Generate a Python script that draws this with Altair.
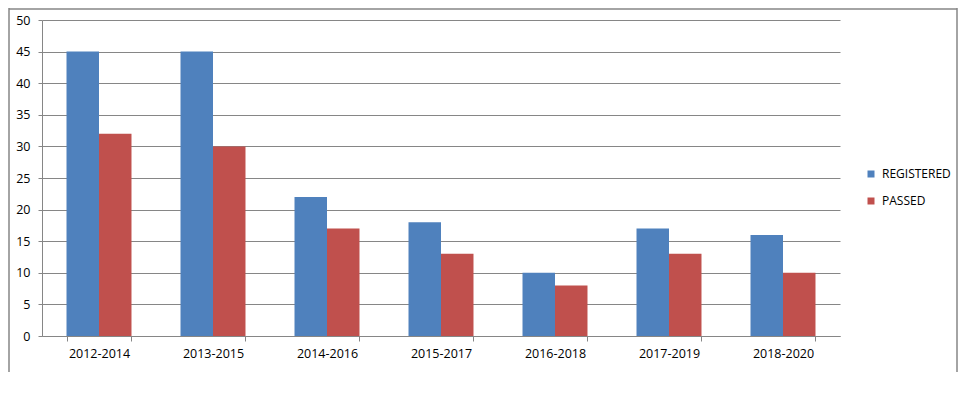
import altair as alt
import pandas as pd

categories = ["2012-2014", "2013-2015", "2014-2016", "2015-2017", "2016-2018", "2017-2019", "2018-2020"]
series = ["REGISTERED", "PASSED"]
registered = [45, 45, 22, 18, 10, 17, 16]
passed = [32, 30, 17, 13, 8, 13, 10]
colors = ["#4F81BD", "#C0504D"]
y_ticks = list(range(0, 51, 5))

rows = []
for c, r, p in zip(categories, registered, passed):
    rows.append({"period": c, "series": "REGISTERED", "value": r})
    rows.append({"period": c, "series": "PASSED", "value": p})
df = pd.DataFrame(rows)

FONT = "Open Sans"
GRAY = "#868686"

bars = alt.Chart(df).mark_bar().encode(
    x=alt.X("period:N", sort=categories, title=None,
            scale=alt.Scale(paddingInner=0.43, paddingOuter=0.215),
            axis=alt.Axis(labelAngle=0, tickBand="extent", tickSize=5, tickColor=GRAY,
                          domainColor=GRAY, labelFont=FONT, labelFontSize=12.5,
                          labelColor="black", labelPadding=6, grid=False)),
    xOffset=alt.XOffset("series:N", sort=series, scale=alt.Scale(paddingInner=0, paddingOuter=0)),
    y=alt.Y("value:Q", title=None, scale=alt.Scale(domain=[0, 50], nice=False),
            axis=alt.Axis(values=y_ticks, grid=True, gridColor=GRAY, tickColor=GRAY, tickSize=4,
                          domainColor=GRAY, labelFont=FONT, labelFontSize=12.5,
                          labelColor="black", labelPadding=8)),
    color=alt.Color("series:N", sort=series,
                    scale=alt.Scale(domain=series, range=colors),
                    legend=alt.Legend(title=None, orient="none", legendX=823, legendY=148,
                                      symbolType="square", symbolSize=49, symbolStrokeWidth=0,
                                      labelFont=FONT, labelFontSize=12, labelColor="black",
                                      labelOffset=5, rowPadding=15)),
)

frame_df = pd.DataFrame({"a": [0]})
left = alt.Chart(frame_df).mark_rule(color=GRAY, strokeWidth=1.5).encode(
    x=alt.value(-33), y=alt.value(-12), y2=alt.value(352))
right = alt.Chart(frame_df).mark_rule(color=GRAY, strokeWidth=1.5).encode(
    x=alt.value(915), y=alt.value(-12), y2=alt.value(352))
top = alt.Chart(frame_df).mark_rule(color=GRAY, strokeWidth=1.5).encode(
    x=alt.value(-33), x2=alt.value(915), y=alt.value(-11))

chart = alt.layer(bars, left, right, top).properties(
    width=798, height=316,
    autosize=alt.AutoSizeParams(type="none"),
    padding={"left": 34, "top": 12, "right": 119, "bottom": 40},
).configure_view(stroke=None)

chart.save("out.html", embed_options={"renderer": "svg", "actions": False})
